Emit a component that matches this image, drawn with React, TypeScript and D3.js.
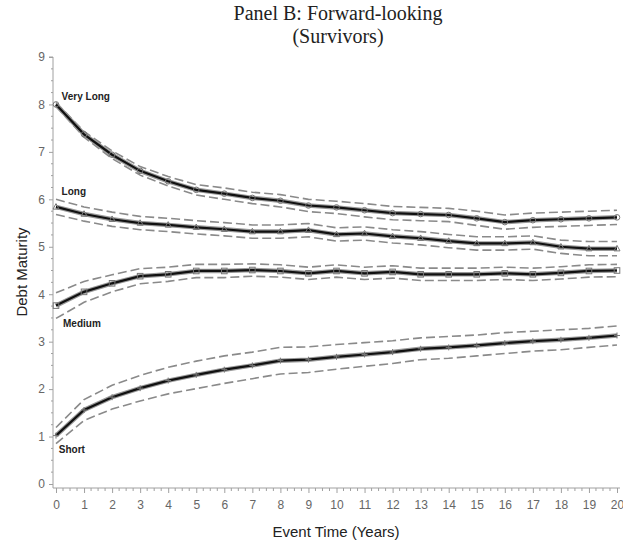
import React, { useRef, useEffect } from 'react';
import * as d3 from 'd3';

const years = d3.range(0, 21);

const veryLong = [8.0, 7.37, 6.94, 6.6, 6.38, 6.2, 6.12, 6.03, 5.97, 5.87, 5.83, 5.77, 5.71, 5.69, 5.67, 5.6, 5.52, 5.56, 5.58, 5.6, 5.62];
const long = [5.84, 5.69, 5.58, 5.5, 5.46, 5.41, 5.37, 5.32, 5.32, 5.35, 5.26, 5.28, 5.22, 5.18, 5.12, 5.07, 5.07, 5.09, 5.0, 4.96, 4.96];
const medium = [3.76, 4.05, 4.23, 4.38, 4.42, 4.49, 4.49, 4.51, 4.49, 4.44, 4.49, 4.44, 4.47, 4.42, 4.42, 4.42, 4.44, 4.42, 4.45, 4.49, 4.5];
const short = [1.02, 1.56, 1.83, 2.02, 2.18, 2.3, 2.41, 2.5, 2.6, 2.62, 2.68, 2.73, 2.78, 2.85, 2.88, 2.92, 2.97, 3.01, 3.04, 3.08, 3.13];

// half-width of the dashed confidence bands
const veryLongCi = [0.04, 0.06, 0.08, 0.09, 0.1, 0.11, 0.12, 0.12, 0.13, 0.13, 0.13, 0.14, 0.14, 0.14, 0.14, 0.15, 0.15, 0.15, 0.15, 0.15, 0.15];
const longCi = [0.16, 0.15, 0.15, 0.14, 0.14, 0.14, 0.14, 0.14, 0.14, 0.14, 0.14, 0.14, 0.14, 0.14, 0.14, 0.14, 0.14, 0.14, 0.14, 0.15, 0.15];
const mediumCi = [0.27, 0.22, 0.18, 0.16, 0.15, 0.14, 0.14, 0.13, 0.13, 0.13, 0.13, 0.13, 0.13, 0.13, 0.13, 0.13, 0.13, 0.13, 0.13, 0.13, 0.13];
const shortCi = [0.17, 0.22, 0.25, 0.27, 0.28, 0.29, 0.29, 0.28, 0.28, 0.27, 0.26, 0.25, 0.24, 0.23, 0.23, 0.22, 0.22, 0.21, 0.21, 0.2, 0.2];

const yTicks = [0, 1, 2, 3, 4, 5, 6, 7, 8, 9];

type Series = {
  name: string;
  values: number[];
  ci: number[];
  marker: 'circle' | 'triangle' | 'square' | 'plus';
  labelAt: [number, number]; // data coords for label baseline
};

const series: Series[] = [
  { name: 'Very Long', values: veryLong, ci: veryLongCi, marker: 'circle', labelAt: [0.2, 8.1] },
  { name: 'Long', values: long, ci: longCi, marker: 'triangle', labelAt: [0.2, 6.1] },
  { name: 'Medium', values: medium, ci: mediumCi, marker: 'square', labelAt: [0.25, 3.3] },
  { name: 'Short', values: short, ci: shortCi, marker: 'plus', labelAt: [0.1, 0.65] },
];

const W = 623;
const H = 541;

export default function App() {
  const svgRef = useRef<SVGSVGElement>(null);

  useEffect(() => {
    if (!svgRef.current) return;
    const svg = d3.select(svgRef.current);
    svg.selectAll('*').remove();

    const x = d3.scaleLinear().domain([0, 20]).range([56, 617]);
    const y = d3.scaleLinear().domain([0, 9]).range([484, 57]);
    const axisGray = '#a0a0a0';
    const tickText = '#666';

    // Title
    svg.append('text')
      .attr('x', 338).attr('y', 20)
      .attr('text-anchor', 'middle')
      .attr('font-family', 'Liberation Serif, DejaVu Serif, serif')
      .attr('font-size', 20)
      .attr('fill', '#222')
      .text('Panel B: Forward-looking');
    svg.append('text')
      .attr('x', 338).attr('y', 43)
      .attr('text-anchor', 'middle')
      .attr('font-family', 'Liberation Serif, DejaVu Serif, serif')
      .attr('font-size', 20)
      .attr('fill', '#222')
      .text('(Survivors)');

    // Y axis
    const yAxis = d3.axisLeft(y).tickValues(yTicks).tickSize(4).tickPadding(4).tickFormat(d3.format('d'));
    const gy = svg.append('g').attr('transform', 'translate(53,0)').call(yAxis);
    gy.select('.domain').attr('stroke', axisGray).attr('d', `M-4,${y(9)}H0V488`);
    gy.selectAll('line').attr('stroke', axisGray);
    gy.selectAll('text')
      .attr('fill', tickText)
      .attr('font-family', 'Liberation Sans, Arial, sans-serif')
      .attr('font-size', 12);

    // Y minor ticks
    svg.append('g')
      .selectAll('line')
      .data(d3.range(0, 9.01, 0.25).filter((v) => Math.abs(v - Math.round(v)) > 0.01))
      .join('line')
      .attr('x1', 51).attr('x2', 53)
      .attr('y1', (d) => y(d)).attr('y2', (d) => y(d))
      .attr('stroke', axisGray);

    // X axis
    const xAxis = d3.axisBottom(x).ticks(20).tickSize(5).tickPadding(7).tickFormat(d3.format('d'));
    const gx = svg.append('g').attr('transform', 'translate(0,488)').call(xAxis);
    gx.select('.domain').attr('stroke', axisGray).attr('d', `M53,0H620`);
    gx.selectAll('line').attr('stroke', axisGray);
    gx.selectAll('text')
      .attr('fill', tickText)
      .attr('font-family', 'Liberation Sans, Arial, sans-serif')
      .attr('font-size', 12);

    // X minor ticks
    svg.append('g')
      .selectAll('line')
      .data(d3.range(0, 20.01, 0.25).filter((v) => Math.abs(v - Math.round(v)) > 0.01))
      .join('line')
      .attr('x1', (d) => x(d)).attr('x2', (d) => x(d))
      .attr('y1', 488).attr('y2', 491)
      .attr('stroke', axisGray);

    // Axis labels
    svg.append('text')
      .attr('x', 336).attr('y', 537)
      .attr('text-anchor', 'middle')
      .attr('font-family', 'Liberation Sans, Arial, sans-serif')
      .attr('font-size', 15)
      .attr('fill', '#222')
      .text('Event Time (Years)');
    svg.append('text')
      .attr('transform', 'translate(27,272) rotate(-90)')
      .attr('text-anchor', 'middle')
      .attr('font-family', 'Liberation Sans, Arial, sans-serif')
      .attr('font-size', 15)
      .attr('fill', '#222')
      .text('Debt Maturity');

    const line = d3.line<number>().x((_, i) => x(years[i])).y((d) => y(d));

    series.forEach((s) => {
      const g = svg.append('g');
      const upper = s.values.map((v, i) => v + s.ci[i]);
      const lower = s.values.map((v, i) => v - s.ci[i]);

      [upper, lower].forEach((band) => {
        g.append('path')
          .attr('d', line(band))
          .attr('fill', 'none')
          .attr('stroke', '#8a8a8a')
          .attr('stroke-width', 1.6)
          .attr('stroke-dasharray', '9,4');
      });

      // gray halo beneath main line
      g.append('path')
        .attr('d', line(s.values))
        .attr('fill', 'none')
        .attr('stroke', '#9a9a9a')
        .attr('stroke-width', 4.5);
      g.append('path')
        .attr('d', line(s.values))
        .attr('fill', 'none')
        .attr('stroke', '#111')
        .attr('stroke-width', 2.2);

      // markers
      const mg = g.append('g')
        .attr('fill', 'none')
        .attr('stroke', '#777')
        .attr('stroke-width', 1);
      s.values.forEach((v, i) => {
        const cx = x(years[i]);
        const cy = y(v);
        if (s.marker === 'circle') {
          mg.append('circle').attr('cx', cx).attr('cy', cy).attr('r', 2.8);
        } else if (s.marker === 'square') {
          mg.append('rect').attr('x', cx - 2.8).attr('y', cy - 2.8).attr('width', 5.6).attr('height', 5.6);
        } else if (s.marker === 'triangle') {
          mg.append('path').attr('d', `M${cx},${cy - 3.3}L${cx + 3},${cy + 2.2}L${cx - 3},${cy + 2.2}Z`);
        } else {
          mg.append('path').attr('d', `M${cx - 3},${cy}H${cx + 3}M${cx},${cy - 3}V${cy + 3}`);
        }
      });

      svg.append('text')
        .attr('x', x(s.labelAt[0])).attr('y', y(s.labelAt[1]))
        .attr('font-family', 'Liberation Sans Narrow, Liberation Sans, Arial, sans-serif')
        .attr('font-weight', 'bold')
        .attr('font-size', 10)
        .attr('fill', '#222')
        .text(s.name);
    });
  }, []);

  return (
    <svg
      ref={svgRef}
      width={W}
      height={H}
      style={{ position: 'absolute', left: 0, top: 0, background: '#fff' }}
    />
  );
}
